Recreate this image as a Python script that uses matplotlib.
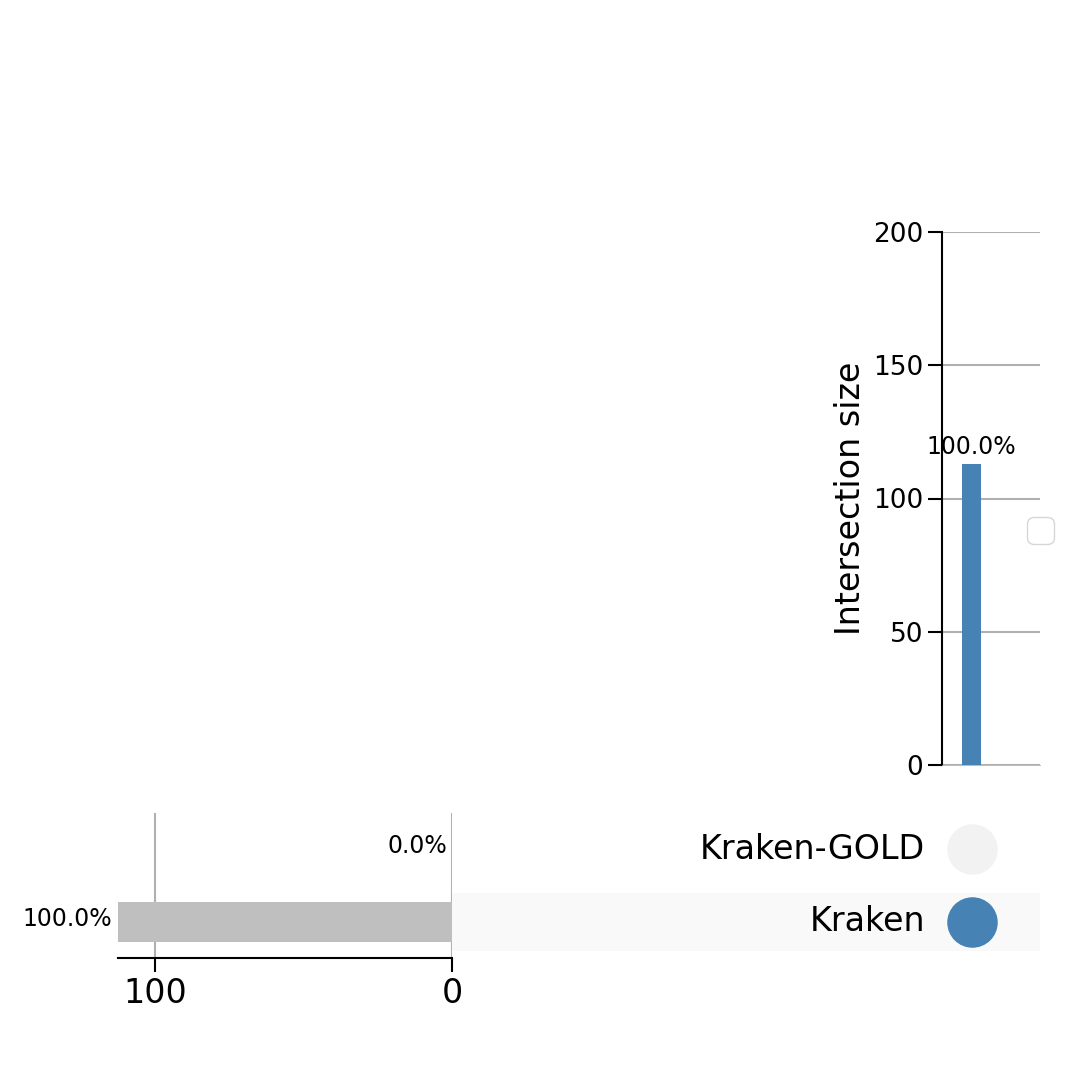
import matplotlib
matplotlib.use("Agg")
import matplotlib.pyplot as plt
from matplotlib.patches import Rectangle

sets = ["Kraken-GOLD", "Kraken"]
set_sizes = [0, 113]
set_pct = ["0.0%", "100.0%"]
inter_sizes = [113]
inter_pct = ["100.0%"]
inter_member = [[False, True]]

W = 1066.0
fig = plt.figure(figsize=(10.66, 10.66), dpi=100)

def ax_px(x0, y0, x1, y1):
    return fig.add_axes([x0 / W, 1 - y1 / W, (x1 - x0) / W, (y1 - y0) / W])

blue = "#4682b4"
XR = 1.16

# intersection size
ax_i = ax_px(942, 232, 1040, 765)
ax_i.bar(range(len(inter_sizes)), inter_sizes, width=0.32, color=blue, zorder=3)
for i, (v, p) in enumerate(zip(inter_sizes, inter_pct)):
    ax_i.text(i, v + 2, p, ha="center", va="bottom", fontsize=17)
ax_i.set_xlim(-0.5, XR)
ax_i.set_ylim(0, 200)
ax_i.set_yticks([0, 50, 100, 150, 200])
ax_i.tick_params(axis="y", labelsize=19, length=10, width=1.5)
ax_i.set_xticks([])
ax_i.yaxis.grid(True, color="#b0b0b0", lw=1.5, zorder=0)
for s in ["top", "right"]:
    ax_i.spines[s].set_visible(False)
ax_i.spines["bottom"].set_color("#b0b0b0")
ax_i.spines["bottom"].set_linewidth(0.6)
ax_i.spines["left"].set_linewidth(1.5)
ax_i.set_ylabel("Intersection size", fontsize=24)
leg = ax_i.legend(handles=[], loc="center left", bbox_to_anchor=(0.7, 0.44),
                  frameon=True, fontsize=24)

# matrix
ax_m = ax_px(452, 813, 1040, 958)
ax_m.set_ylim(-0.5, 1.5)
ax_m.set_xlim(-8.8, XR)
ax_m.add_patch(Rectangle((-8.8, -0.4), 10.0, 0.8, color="#f9f9f9", zorder=0, lw=0))
for j, name in enumerate(sets):
    y = 1 - j
    ax_m.text(-0.79, y, name, ha="right", va="center", fontsize=24)
for i, mem in enumerate(inter_member):
    for j, m in enumerate(mem):
        ax_m.scatter(i, 1 - j, s=1250, color=blue if m else "#f2f2f2", zorder=3)
ax_m.axis("off")

# set sizes
ax_s = ax_px(118, 813, 452, 958)
ax_s.barh([1 - j for j in range(len(sets))], set_sizes, height=0.55, color="#bfbfbf", zorder=3)
ax_s.set_xlim(112.5, 0)
ax_s.set_ylim(-0.5, 1.5)
for j, (v, p) in enumerate(zip(set_sizes, set_pct)):
    ax_s.text(v + 1.5, 1 - j + 0.04, p, ha="right", va="center", fontsize=17)
ax_s.set_xticks([100, 0])
ax_s.tick_params(axis="x", labelsize=24, length=10, width=1.5)
ax_s.set_yticks([])
ax_s.xaxis.grid(True, color="#b0b0b0", lw=1.5, zorder=0)
for s in ["top", "left", "right"]:
    ax_s.spines[s].set_visible(False)
ax_s.spines["bottom"].set_linewidth(1.5)

fig.savefig("out.png", dpi=100)
